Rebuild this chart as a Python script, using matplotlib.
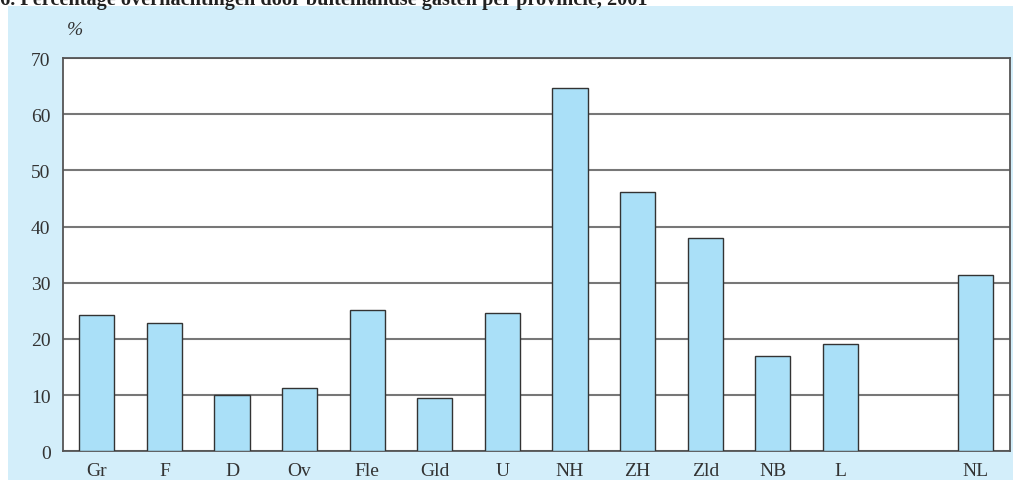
import matplotlib.pyplot as plt
from matplotlib.patches import Rectangle

# Percentage overnachtingen door buitenlandse gasten per provincie, 2001
provincies = ["Gr", "F", "D", "Ov", "Fle", "Gld", "U", "NH", "ZH", "Zld", "NB", "L", "NL"]
posities = [0, 1, 2, 3, 4, 5, 6, 7, 8, 9, 10, 11, 13]
percentages = [24.2, 22.8, 10.0, 11.2, 25.2, 9.4, 24.6, 64.6, 46.2, 38.0, 16.9, 19.1, 31.4]
yticks = [0, 10, 20, 30, 40, 50, 60, 70]

plt.rcParams['font.family'] = ['Liberation Serif', 'DejaVu Serif']

W, H = 1013, 481
fig = plt.figure(figsize=(W / 100, H / 100), dpi=100)
fig.patch.set_facecolor("white")

# lichtblauw paneel achter de grafiek
fig.patches.append(Rectangle((8 / W, 0), 1 - 8 / W, (H - 7) / H, transform=fig.transFigure,
                             facecolor="#d3eefa", edgecolor="none", zorder=-10))

# titel, bovenkant valt buiten beeld
fig.text(0.0, (H - 4.5) / H, "6. Percentage overnachtingen door buitenlandse gasten per provincie, 2001",
         fontsize=14.6, fontweight="bold", color="#222222", va="baseline", ha="left")

ax = fig.add_axes([63 / W, (H - 452.2) / H, (1009.5 - 63) / W, (452.2 - 59) / H])
ax.set_facecolor("white")
ax.set_axisbelow(True)

ax.bar(posities, percentages, width=0.52, color="#aae0f8", edgecolor="#333333", linewidth=1.0, zorder=3)

ax.set_xlim(-0.5, 13.5)
ax.set_ylim(0, 70)
ax.set_yticks(yticks)
ax.set_xticks(posities)
ax.set_xticklabels(provincies)
ax.yaxis.grid(True, color="#777777", linewidth=1.5)
ax.tick_params(axis="both", length=0, labelsize=14, colors="#333333")
ax.tick_params(axis="y", pad=9)
ax.tick_params(axis="x", pad=8)
for s in ax.spines.values():
    s.set_color("#555555")
    s.set_linewidth(1.3)

fig.text(67 / W, (H - 31) / H, "%", fontsize=14, style="italic",
         color="#333333", ha="left", va="center")

plt.savefig("out.png", dpi=100)
